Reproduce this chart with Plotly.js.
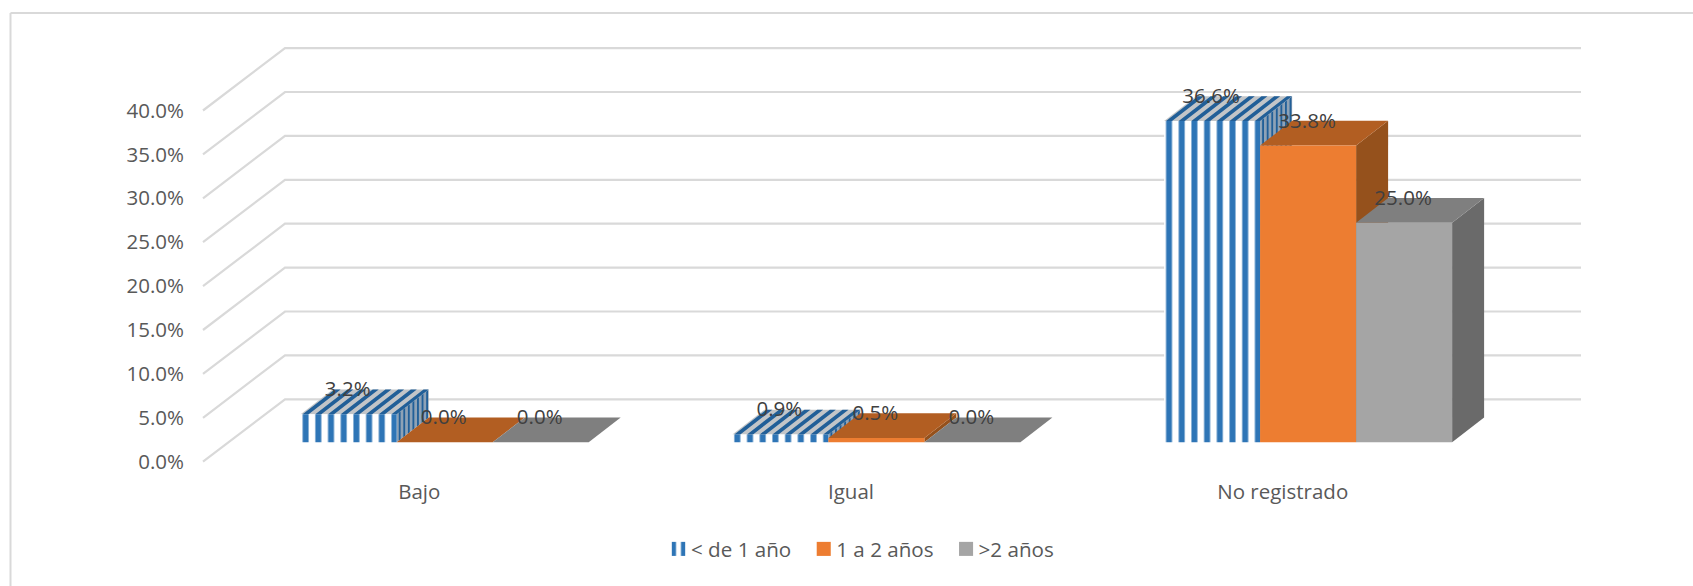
<!DOCTYPE html>
<html>
<head>
<meta charset="utf-8">
<script src="https://cdn.plot.ly/plotly-3.0.1.min.js"></script>
<style>
html,body{margin:0;padding:0;background:#fff}
#chart{width:1693px;height:586px}
/* Legend keys: larger squares placed closer to their labels */
#chart .legend .legendpoints path{transform:translate(27.5px,0) scale(1.17)}
</style>
</head>
<body>
<div id="chart"></div>
<script>
// Chart content
const categories = ["Bajo", "Igual", "No registrado"];
const seriesNames = ["< de 1 año", "1 a 2 años", ">2 años"];
const menosDeUnAno = [3.2, 0.9, 36.6];
const unoADosAnos = [0.0, 0.5, 33.8];
const masDeDosAnos = [0.0, 0.0, 25.0];
const axisTicks = [0, 5, 10, 15, 20, 25, 30, 35, 40];

// Canvas layout, in pixels
const W = 1693, H = 586;
const L = 185, R = 1620, T = 25, B = 477;
const pxPerCategory = 431.7, pxPerPercent = 8.78;
const floorX0 = 419.3, floorY0 = 461.7;     // front plane: centre of first category, zero level
const barX0 = 444.7, barY0 = 442.3;         // plane of the bar fronts
const depthPxX = 32, depthPxY = 24.7;       // extrusion of one bar
const floorDepthPxX = 82, floorDepthPxY = 62.4; // extent of the floor
const gridLeftPx = 203, gridRightPx = 1581;
const stripePx = 12.697, stripeWidthPx = 6; // vertical hatch of the first series

// Projection helpers: faces are expressed in front-plane axis units
const ux = px => px / pxPerCategory, uy = px => px / pxPerPercent;
const xRange = x0 => [(L - x0) / pxPerCategory, (R - x0) / pxPerCategory];
const yRange = y0 => [(y0 - B) / pxPerPercent, (y0 - T) / pxPerPercent];
const planeDX = ux(barX0 - floorX0), planeDY = uy(floorY0 - barY0);
const depthX = ux(depthPxX), depthY = uy(depthPxY);

const bargap = 1 - 288 / pxPerCategory;
const barW = (1 - bargap) / 3;

const palette = [
  {front: "#2e75b6", top: "#c2c5c8", side: "#8ea2b6", mark: "#215f98"},
  {front: "#ed7d31", top: "#b25e22", side: "#95511c"},
  {front: "#a5a5a5", top: "#7f7f7f", side: "#6a6a6a"}
];
const seriesValues = [menosDeUnAno, unoADosAnos, masDeDosAnos];

const face = (xs, ys, color) => ({
  type: "scatter", mode: "lines", x: xs, y: ys, xaxis: "x", yaxis: "y",
  fill: "toself", fillcolor: color, line: {width: 0, color: color},
  hoverinfo: "skip", showlegend: false
});

const traces = [];

// Perspective gridlines
const gx = [], gy = [];
const gridStart = ux(gridLeftPx - floorX0), gridEnd = ux(gridRightPx - floorX0);
axisTicks.forEach(t => {
  gx.push(gridStart, gridStart + ux(floorDepthPxX), gridEnd, null);
  gy.push(t, t + uy(floorDepthPxY), t + uy(floorDepthPxY), null);
});
traces.push({
  type: "scatter", mode: "lines", x: gx, y: gy, xaxis: "x", yaxis: "y",
  line: {color: "#d9d9d9", width: 2.2}, hoverinfo: "skip", showlegend: false
});

// Side and top faces, left to right so each bar overlaps its neighbour
categories.forEach((_, c) => {
  seriesValues.forEach((vals, s) => {
    const v = vals[c], p = palette[s];
    const x0 = c + planeDX - (1 - bargap) / 2 + s * barW, x1 = x0 + barW;
    const base = planeDY, top = v + planeDY;
    // side
    traces.push(face(
      [x1, x1 + depthX, x1 + depthX, x1, x1],
      [top, top + depthY, base + depthY, base, top], p.side));
    if (p.mark) {
      const sx = [], sy = [], n = 7;
      for (let i = 0; i < n; i++) {
        const a = (i + 0.45) / n, b = (i + 0.85) / n;
        sx.push(x1 + a * depthX, x1 + b * depthX, x1 + b * depthX, x1 + a * depthX, x1 + a * depthX, null);
        sy.push(top + a * depthY, top + b * depthY, base + b * depthY, base + a * depthY, top + a * depthY, null);
      }
      traces.push(face(sx, sy, p.mark));
    }
    // top
    traces.push(face(
      [x0, x1, x1 + depthX, x0 + depthX, x0],
      [top, top, top + depthY, top + depthY, top], p.top));
    if (p.mark) {
      // top hatch continues the front stripes towards the back
      const sx = [], sy = [];
      const firstCentre = ux(L + stripePx / 2 - barX0) + planeDX;
      for (let k = 0; k < 120; k++) {
        const centre = firstCentre + k * ux(stripePx);
        const lo = centre - ux(stripeWidthPx / 2), hi = centre + ux(stripeWidthPx / 2);
        if (hi <= x0 || lo >= x1) continue;
        const l = Math.max(lo, x0), h = Math.min(hi, x1);
        sx.push(l, h, h + depthX, l + depthX, l, null);
        sy.push(top, top, top + depthY, top + depthY, top, null);
      }
      traces.push(face(sx, sy, p.mark));
    }
  });
});

// Bar fronts
seriesValues.forEach((vals, s) => {
  const p = palette[s];
  const marker = {color: p.front, line: {width: 0}};
  if (s === 0) {
    marker.pattern = {shape: "|", size: stripePx, solidity: 0.47, fgcolor: p.front, bgcolor: "#ffffff", fillmode: "replace"};
  }
  traces.push({
    type: "bar", name: seriesNames[s], x: categories.map((_, i) => i), y: vals,
    xaxis: "x2", yaxis: "y2", marker: marker, hoverinfo: "skip"
  });
});

// Value labels sit on the back edge of each bar top
const lx = [], ly = [], lt = [];
seriesValues.forEach((vals, s) => vals.forEach((v, c) => {
  lx.push(c - (1 - bargap) / 2 + (s + 0.5) * barW - ux(1));
  ly.push(v + depthY - uy(1.6));
  lt.push(v.toFixed(1) + "%");
}));
traces.push({
  type: "scatter", mode: "text", x: lx, y: ly, text: lt, xaxis: "x2", yaxis: "y2",
  textposition: "middle center", textfont: {family: "Open Sans", size: 20.5, color: "#404040"},
  cliponaxis: false, hoverinfo: "skip", showlegend: false
});

const paperX = px => (px - L) / (R - L);
const paperY = py => (B - py) / (B - T);
const textFont = {family: "Open Sans", size: 20.5, color: "#595959"};

const layout = {
  width: W, height: H,
  margin: {l: L, r: W - R, t: T, b: H - B, pad: 0, autoexpand: false},
  paper_bgcolor: "#ffffff", plot_bgcolor: "rgba(0,0,0,0)",
  barmode: "group", bargap: bargap, bargroupgap: 0,
  font: textFont,
  xaxis: {
    type: "linear", range: xRange(floorX0), tickmode: "array",
    tickvals: categories.map((_, i) => i), ticktext: categories,
    showgrid: false, zeroline: false, showline: false, ticks: "", fixedrange: true,
    tickfont: textFont
  },
  yaxis: {
    type: "linear", range: yRange(floorY0), tickmode: "array",
    tickvals: axisTicks, ticktext: axisTicks.map(t => t.toFixed(1) + "%"),
    showgrid: false, zeroline: false, showline: false, ticks: "", fixedrange: true,
    tickfont: textFont
  },
  xaxis2: {type: "linear", range: xRange(barX0), overlaying: "x", anchor: "y2", visible: false, fixedrange: true},
  yaxis2: {type: "linear", range: yRange(barY0), overlaying: "y", anchor: "x2", visible: false, fixedrange: true},
  showlegend: true,
  legend: {
    orientation: "h", x: paperX(651), xanchor: "left", y: paperY(549), yanchor: "middle",
    font: {family: "Open Sans", size: 20.6, color: "#595959"},
    bgcolor: "rgba(0,0,0,0)", borderwidth: 0, itemclick: false, itemdoubleclick: false
  },
  shapes: [
    {type: "line", xref: "paper", yref: "paper", x0: paperX(10.5), x1: paperX(W), y0: paperY(13), y1: paperY(13), line: {color: "#d9d9d9", width: 2}, layer: "below"},
    {type: "line", xref: "paper", yref: "paper", x0: paperX(10.5), x1: paperX(10.5), y0: paperY(13), y1: paperY(H), line: {color: "#d9d9d9", width: 2}, layer: "below"}
  ]
};

Plotly.newPlot("chart", traces, layout, {displayModeBar: false});
</script>
</body>
</html>
